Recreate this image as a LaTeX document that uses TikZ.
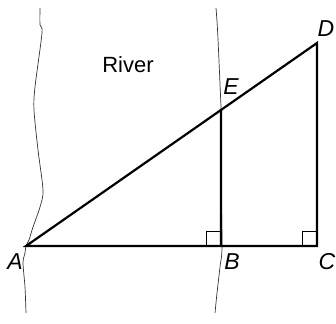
\documentclass[tikz,border=0pt]{standalone}
\usepackage{fontspec}
\setmainfont{Liberation Sans}
\usepackage{tikz}
\usetikzlibrary{positioning,calc}
\tikzset{
  side/.style  ={draw=black, line width=2.2pt, line join=miter},
  bank/.style  ={draw=black!80, line width=0.7pt},
  rang/.style  ={draw=black, line width=0.7pt},
  pt/.style    ={font=\fontsize{23}{27}\selectfont\itshape, inner sep=0pt},
  word/.style  ={font=\fontsize{22}{26}\selectfont, inner sep=0pt}
}

\begin{document}
\begin{tikzpicture}[x=1pt,y=1pt]
\useasboundingbox (0,0) rectangle (336,323);
% river banks
\draw[bank] plot[smooth] coordinates {(40,315) (40,298) (42,290) (35,236)
  (34,213) (38,173) (43,133) (40,116) (33,96) (29,83) (26,77) (25,70)
  (23,60) (25,36) (26,10)};
\draw[bank] plot[smooth] coordinates {(216,315) (217.7,290) (220.7,223)
  (221,213) (221,150) (222,77) (220,56) (217,30) (215,10)};
% points
\coordinate (A) at (26,77);
\coordinate (B) at (221,77);
\coordinate (C) at (317,77);
\coordinate (D) at (317,280);
\coordinate (E) at ($(A)!0.6701!(D)$);
% right angles
\draw[rang] ($(B)+(-15,0)$) |- ($(B)+(0,15)$);
\draw[rang] ($(C)+(-15,0)$) |- ($(C)+(0,15)$);
% triangles
\draw[side] (A) -- (C) -- (D) -- cycle;
\draw[side] (B) -- (E);
% labels
\node[word] (river) at (128,258) {River};
\node[pt] (lA) at (15,61) {A};
\node[pt] (lB) at (232,61) {B};
\node[pt] (lC) at (327,61) {C};
\node[pt] (lD) at (326,294) {D};
\node[pt] (lE) at (231,236) {E};
\end{tikzpicture}
\end{document}
